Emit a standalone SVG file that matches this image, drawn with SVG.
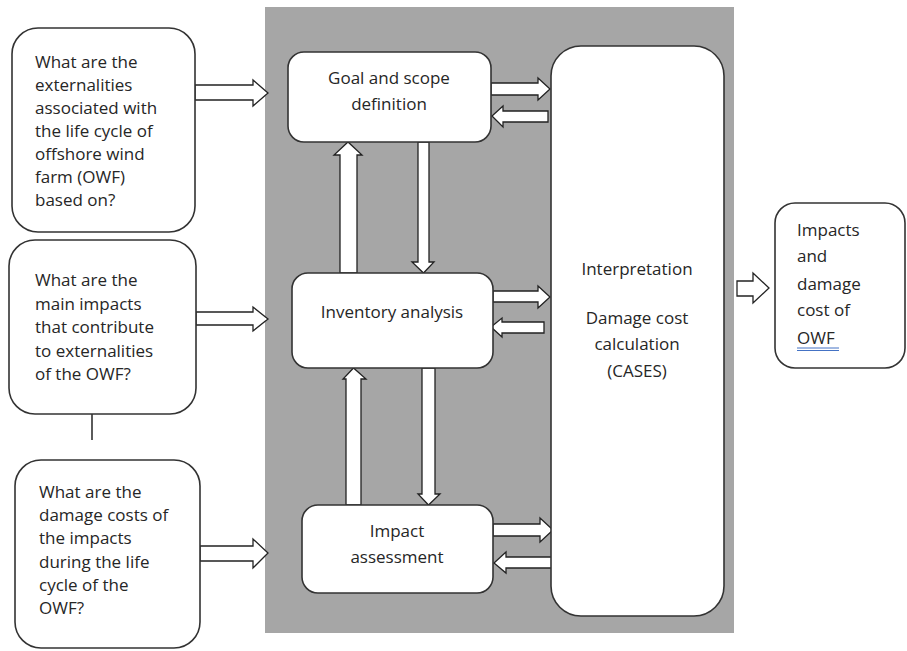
<svg xmlns="http://www.w3.org/2000/svg" width="907" height="651" viewBox="0 0 907 651">
<style>
.box{fill:#fff;stroke:#333;stroke-width:1.6}
.arr{fill:#fff;stroke:#222;stroke-width:1.3;stroke-linejoin:miter}
.t{font-family:"Open Sans","DejaVu Sans",sans-serif;font-size:17px;fill:#262626}
.c{text-anchor:middle}
</style>
<rect x="0" y="0" width="907" height="651" fill="#fff"/>
<rect id="panel" x="265" y="7" width="469" height="626" fill="#a6a6a6"/>
<g id="connectors">
<polygon class="arr" points="195,85 253,85 253,80 268,93 253,106 253,100 195,100"/>
<polygon class="arr" points="196,312 253,312 253,307 268,319 253,331 253,325 196,325"/>
<polygon class="arr" points="200,546 253,546 253,539 268,553 253,568 253,561 200,561"/>
<polygon class="arr" points="491,83 538,83 538,78 550,89 538,100 538,95 491,95"/>
<polygon class="arr" points="548,111 503,111 503,106 492,116 503,127 503,122 548,122"/>
<polygon class="arr" points="493,291 538,291 538,286 550,297 538,308 538,302 493,302"/>
<polygon class="arr" points="544,322 502,322 502,318 491,327 502,337 502,333 544,333"/>
<polygon class="arr" points="493,524 540,524 540,518 553,530 540,542 540,536 493,536"/>
<polygon class="arr" points="552,557 506,557 506,552 494,563 506,573 506,568 552,568"/>
<polygon class="arr" points="340,273 340,155 334,155 348,142 362,155 357,155 357,273"/>
<polygon class="arr" points="418,142 418,262 412,262 423.5,273 434,262 429,262 429,142"/>
<polygon class="arr" points="346,505 346,379 343,379 353.5,368 366,379 361,379 361,505"/>
<polygon class="arr" points="422,368 422,494 418,494 428.5,505 440,494 435,494 435,368"/>
<polygon class="arr" points="737,281 753,281 753,273 769,288 753,303 753,296 737,296"/>
<line x1="92" y1="414" x2="92" y2="440" stroke="#333" stroke-width="1.6"/>
</g>
<g id="q1">
<rect class="box" x="12" y="28" width="183" height="204" rx="26"/>
<text class="t" x="35" y="68">What are the</text>
<text class="t" x="35" y="91">externalities</text>
<text class="t" x="35" y="114">associated with</text>
<text class="t" x="35" y="137">the life cycle of</text>
<text class="t" x="35" y="160">offshore wind</text>
<text class="t" x="35" y="183">farm (OWF)</text>
<text class="t" x="35" y="206">based on?</text>
</g>
<g id="q2">
<rect class="box" x="9" y="240" width="187" height="174" rx="26"/>
<text class="t" x="35" y="286">What are the</text>
<text class="t" x="35" y="310">main impacts</text>
<text class="t" x="35" y="333">that contribute</text>
<text class="t" x="35" y="357">to externalities</text>
<text class="t" x="35" y="380">of the OWF?</text>
</g>
<g id="q3">
<rect class="box" x="15" y="460" width="185" height="188" rx="26"/>
<text class="t" x="39" y="498">What are the</text>
<text class="t" x="39" y="521">damage costs of</text>
<text class="t" x="39" y="544">the impacts</text>
<text class="t" x="39" y="568">during the life</text>
<text class="t" x="39" y="591">cycle of the</text>
<text class="t" x="39" y="614">OWF?</text>
</g>
<g id="goal">
<rect class="box" x="288" y="52" width="203" height="90" rx="16"/>
<text class="t c" x="389" y="84">Goal and scope</text>
<text class="t c" x="389" y="110">definition</text>
</g>
<g id="inventory">
<rect class="box" x="292" y="273" width="201" height="95" rx="16"/>
<text class="t c" x="392" y="318">Inventory analysis</text>
</g>
<g id="impact">
<rect class="box" x="302" y="505" width="191" height="88" rx="16"/>
<text class="t c" x="397" y="537">Impact</text>
<text class="t c" x="397" y="563">assessment</text>
</g>
<g id="interpretation">
<rect class="box" x="551" y="46" width="173" height="570" rx="30"/>
<text class="t c" x="637" y="275">Interpretation</text>
<text class="t c" x="637" y="324">Damage cost</text>
<text class="t c" x="637" y="350">calculation</text>
<text class="t c" x="637" y="377">(CASES)</text>
</g>
<g id="output">
<rect class="box" x="775" y="203" width="130" height="165" rx="20"/>
<text class="t" x="797" y="236">Impacts</text>
<text class="t" x="797" y="262">and</text>
<text class="t" x="797" y="290">damage</text>
<text class="t" x="797" y="316">cost of</text>
<text class="t" x="797" y="344">OWF</text>
<line x1="797" y1="348" x2="839" y2="348" stroke="#4472c4" stroke-width="1"/>
<line x1="797" y1="350.5" x2="839" y2="350.5" stroke="#4472c4" stroke-width="1"/>
</g>
</svg>
